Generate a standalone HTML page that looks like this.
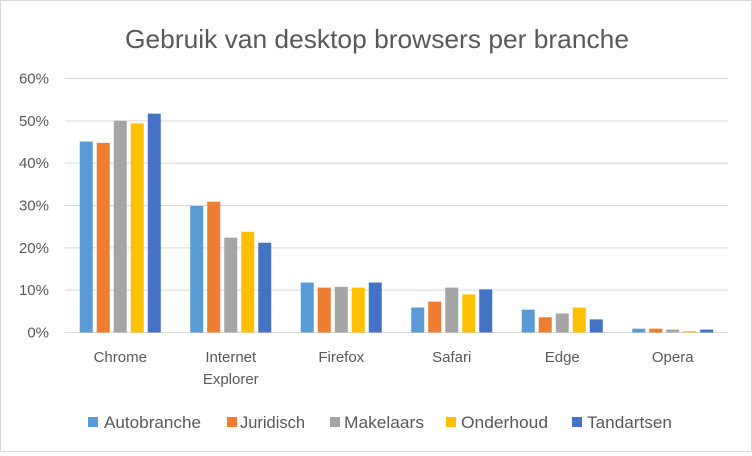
<!DOCTYPE html>
<html><head><meta charset="utf-8"><style>
body{margin:0;background:#fff;font-family:"Liberation Sans",sans-serif}
#c{position:absolute;left:0;top:0;width:752px;height:452px;border:1px solid #d9d9d9;box-sizing:border-box}
</style></head><body>
<div id="c">
<svg id="s" width="750" height="450"></svg>
</div>
<script>
const categories=[["Chrome"],["Internet","Explorer"],["Firefox"],["Safari"],["Edge"],["Opera"]];
const seriesNames=["Autobranche","Juridisch","Makelaars","Onderhoud","Tandartsen"];
const autobranche=[45.1,29.9,11.8,5.9,5.4,0.9];
const juridisch=[44.8,30.9,10.6,7.3,3.6,0.9];
const makelaars=[50.0,22.4,10.8,10.6,4.5,0.7];
const onderhoud=[49.4,23.8,10.6,9.0,5.9,0.3];
const tandartsen=[51.7,21.2,11.8,10.2,3.1,0.7];
const yTicks=[0,10,20,30,40,50,60];
const colors=["#5b9bd5","#ed7d31","#a5a5a5","#ffc000","#4472c4"];
const series=[autobranche,juridisch,makelaars,onderhoud,tandartsen];
const NS="http://www.w3.org/2000/svg",s=document.getElementById("s");
const L=64,R=727,B=331.5,T=77.5;
const y=v=>B-(v/60)*(B-T);
const cw=(R-L)/categories.length;
const x=i=>L+cw*(i+0.5);
function el(t,a,p){const e=document.createElementNS(NS,t);for(const k in a)e.setAttribute(k,a[k]);(p||s).appendChild(e);return e;}
const title=el("text",{x:124,y:47,"font-size":"26","fill":"#595959",textLength:504,lengthAdjust:"spacingAndGlyphs"});
title.textContent="Gebruik van desktop browsers per branche";


yTicks.forEach(t=>{
 const g=el("line",{x1:L,x2:R,y1:y(t),y2:y(t),stroke:"#d9d9d9","stroke-width":1});
 
 
 const lb=el("text",{x:48,y:y(t)+5,"text-anchor":"end","font-size":"15",fill:"#595959"});
 lb.textContent=t+"%";
 
 
});
const bw=13,gap=17;
series.forEach((vals,si)=>{
 vals.forEach((v,ci)=>{
  const bx=x(ci)-2*gap-bw/2+si*gap;
  const r=el("rect",{x:bx,y:y(v),width:bw,height:B-y(v),fill:colors[si]});
  
  
 });
});
categories.forEach((c,i)=>{
 c.forEach((ln,j)=>{
  const t=el("text",{x:x(i),y:361+j*22,"text-anchor":"middle","font-size":"15",fill:"#595959"});
  t.textContent=ln;
  
  
 });
});
const lx=[87,226,329,445,571];
const tx=[103,239,343,460,586];
const lw=[97,65,80,87,85];
seriesNames.forEach((n,i)=>{
 const g=el("g",{});
 
 
 el("rect",{x:lx[i],y:416,width:10,height:10,fill:colors[i]},g);
 const t=el("text",{x:tx[i],y:427,"font-size":"17",fill:"#595959",textLength:lw[i],lengthAdjust:"spacingAndGlyphs"},g);
 t.textContent=n;
});
</script>
</body></html>
